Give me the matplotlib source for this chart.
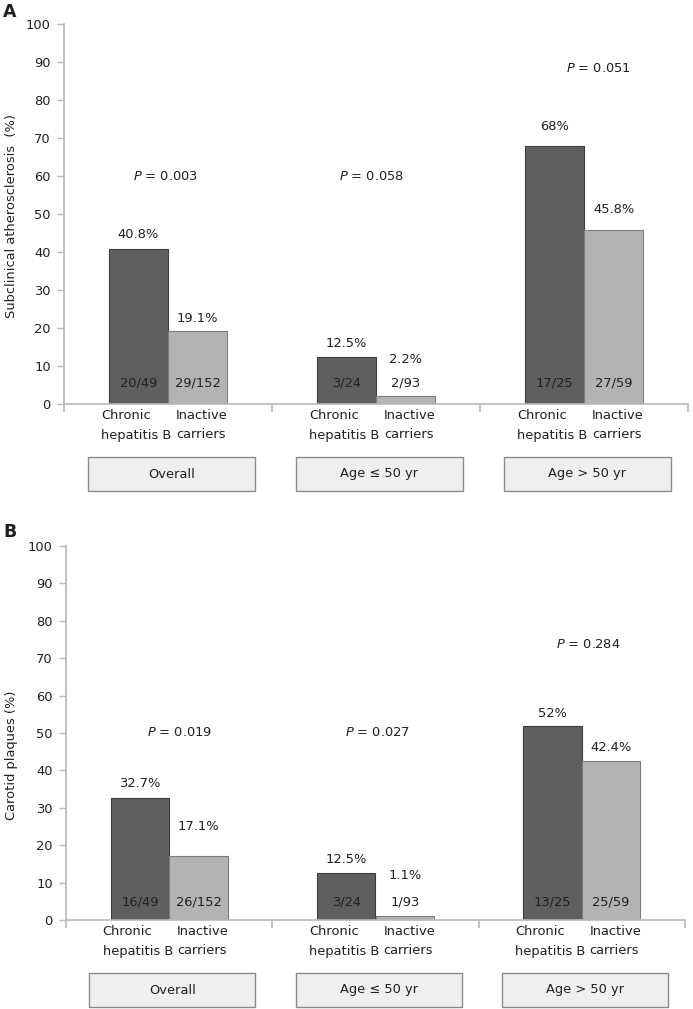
import matplotlib
matplotlib.use("Agg")
import matplotlib.pyplot as plt
from matplotlib.patches import Rectangle

# ---------------- data ----------------
groups = ["Overall", "Age \u2264 50 yr", "Age > 50 yr"]
series = ["Chronic\nhepatitis B", "Inactive\ncarriers"]

a_chb = [40.8, 12.5, 68.0]
a_ic = [19.1, 2.2, 45.8]
a_chb_counts = ["20/49", "3/24", "17/25"]
a_ic_counts = ["29/152", "2/93", "27/59"]
a_pvalues = ["0.003", "0.058", "0.051"]
a_ylabel = "Subclinical atherosclerosis  (%)"

b_chb = [32.7, 12.5, 52.0]
b_ic = [17.1, 1.1, 42.4]
b_chb_counts = ["16/49", "3/24", "13/25"]
b_ic_counts = ["26/152", "1/93", "25/59"]
b_pvalues = ["0.019", "0.027", "0.284"]
b_ylabel = "Carotid plaques (%)"

yticks = list(range(0, 101, 10))

# ---------------- layout (annotation placement) ----------------
W, H, DPI = 693, 1009, 100
# label y-positions in data units
a_chb_lab_y = [44.5, 16.0, 72.9]
a_ic_lab_y = [22.6, 11.6, 51.3]
a_p_y = [59.8, 59.8, 88.3]
a_p_dx = [-0.01, -0.02, 0.07]
a_cnt_y = 5.5

b_chb_lab_y = [36.4, 16.3, 55.3]
b_ic_lab_y = [25.1, 12.0, 46.0]
b_p_y = [50.0, 50.0, 73.6]
b_p_dx = [0.05, 0.01, 0.03]
b_cnt_y = 4.8

# left edges of the category-label blocks, as fraction of a group
cat_left = [0.177, 0.538]

DARK = "#5f5f5f"
DARK_EDGE = "#3c3c3c"
LIGHT = "#b3b3b3"
LIGHT_EDGE = "#7d7d7d"
AXCOL = "#b8b8b8"
TXT = "#231f20"
FS = 9.4

plt.rcParams["font.family"] = ["DejaVu Sans"]
plt.rcParams["mathtext.fontset"] = "dejavusans"

fig = plt.figure(figsize=(W / DPI, H / DPI), dpi=DPI)


def panel(rect_px, chb, ic, chb_c, ic_c, pv, chb_ly, ic_ly, p_y, p_dx, cnt_y):
    left, top, right, bottom = rect_px
    ax = fig.add_axes([left / W, 1 - bottom / H, (right - left) / W, (bottom - top) / H])
    ax_h = bottom - top
    bw = 0.284
    centers = [i + 0.5 for i in range(len(groups))]
    ax.bar([c - bw for c in centers], chb, width=bw, align="edge", color=DARK,
           edgecolor=DARK_EDGE, linewidth=0.8, zorder=2)
    ax.bar(centers, ic, width=bw, align="edge", color=LIGHT,
           edgecolor=LIGHT_EDGE, linewidth=0.8, zorder=2)
    ax.set_xlim(0, len(groups))
    ax.set_ylim(0, 100)
    ax.set_yticks(yticks)
    ax.set_xticks(range(len(groups) + 1))
    ax.set_xticklabels([])
    for s in ["top", "right"]:
        ax.spines[s].set_visible(False)
    for s in ["left", "bottom"]:
        ax.spines[s].set_color(AXCOL)
        ax.spines[s].set_linewidth(1.2)
    ax.tick_params(axis="y", colors=AXCOL, labelcolor=TXT, labelsize=FS,
                   length=5, width=1, pad=4.5)
    ax.tick_params(axis="x", colors=AXCOL, length=6, width=1.2)
    for i, c in enumerate(centers):
        xd, xl = c - bw / 2, c + bw / 2
        ax.text(xd, chb_ly[i], f"{chb[i]:g}%", ha="center", va="center",
                fontsize=FS, color=TXT)
        ax.text(xl, ic_ly[i], f"{ic[i]:g}%", ha="center", va="center",
                fontsize=FS, color=TXT)
        ax.text(xd, cnt_y, chb_c[i], ha="center", va="center", fontsize=FS,
                color=TXT, zorder=3)
        ax.text(xl, cnt_y, ic_c[i], ha="center", va="center", fontsize=FS,
                color=TXT, zorder=3)
        ax.text(c + p_dx[i], p_y[i], "$P$ = " + pv[i], ha="center", va="center",
                fontsize=FS, color=TXT)
        # category labels
        for j, lab in enumerate(series):
            ax.text(i + cat_left[j], -5.0 / ax_h, lab,
                    transform=ax.get_xaxis_transform(),
                    ha="left", va="top", multialignment="left",
                    fontsize=FS, color=TXT, linespacing=1.65)
        # group boxes
        y0 = -87 / ax_h
        hgt = 34 / ax_h
        ax.add_patch(Rectangle((i + 0.113, y0), 0.805, hgt,
                               transform=ax.get_xaxis_transform(), clip_on=False,
                               facecolor="#efefef", edgecolor="#8a8a8a", linewidth=1))
        ax.text(i + 0.113 + 0.805 / 2, y0 + hgt / 2, groups[i],
                transform=ax.get_xaxis_transform(), ha="center", va="center",
                fontsize=FS, color=TXT)
    return ax


axA = panel((64, 24, 688, 404), a_chb, a_ic, a_chb_counts, a_ic_counts, a_pvalues,
            a_chb_lab_y, a_ic_lab_y, a_p_y, a_p_dx, a_cnt_y)
axB = panel((66, 546, 685, 920), b_chb, b_ic, b_chb_counts, b_ic_counts, b_pvalues,
            b_chb_lab_y, b_ic_lab_y, b_p_y, b_p_dx, b_cnt_y)

fig.text(12 / W, 1 - 216 / H, a_ylabel, rotation=90, ha="center", va="center",
         fontsize=FS, color=TXT)
fig.text(12 / W, 1 - 755 / H, b_ylabel, rotation=90, ha="center", va="center",
         fontsize=FS, color=TXT)
fig.text(3 / W, 1 - 12 / H, "A", fontweight="bold", fontsize=12.5, ha="left",
         va="center", color=TXT)
fig.text(3 / W, 1 - 532 / H, "B", fontweight="bold", fontsize=12.5, ha="left",
         va="center", color=TXT)

fig.savefig("out.png", dpi=DPI)
